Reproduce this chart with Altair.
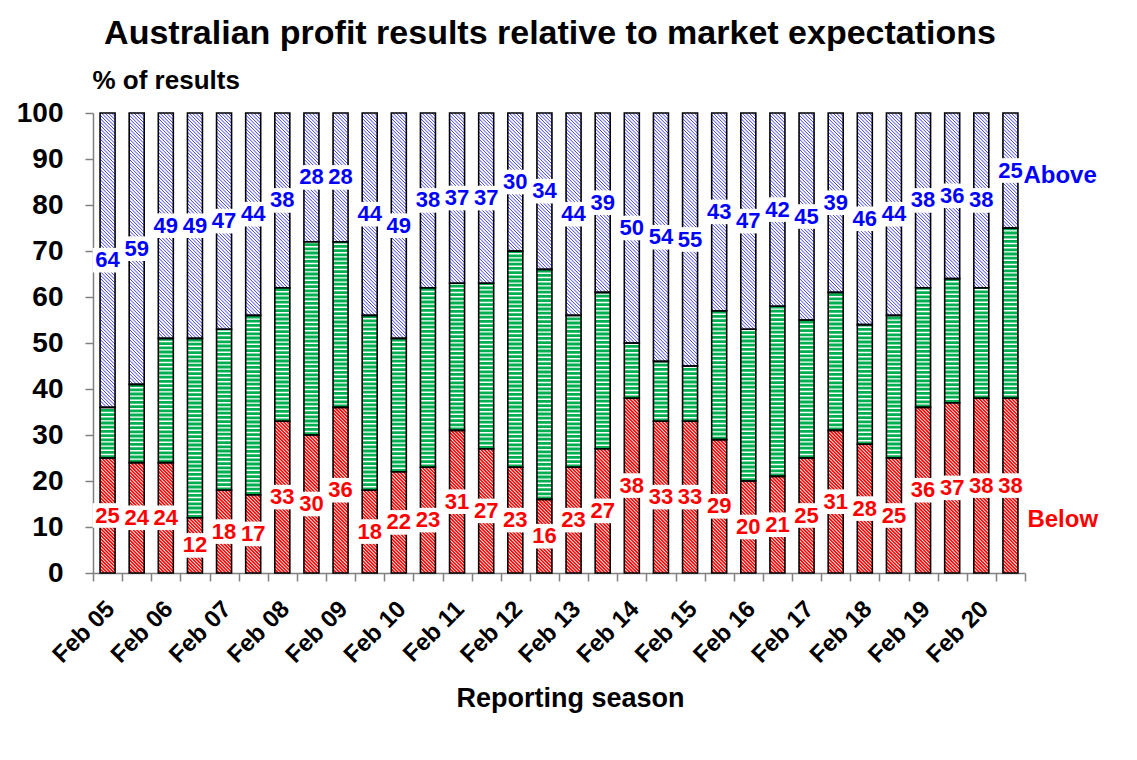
import altair as alt
import pandas as pd

# Reporting seasons (Feb and Aug of each year)
seasons = [
    "Feb 05", "Aug 05", "Feb 06", "Aug 06", "Feb 07", "Aug 07", "Feb 08", "Aug 08",
    "Feb 09", "Aug 09", "Feb 10", "Aug 10", "Feb 11", "Aug 11", "Feb 12", "Aug 12",
    "Feb 13", "Aug 13", "Feb 14", "Aug 14", "Feb 15", "Aug 15", "Feb 16", "Aug 16",
    "Feb 17", "Aug 17", "Feb 18", "Aug 18", "Feb 19", "Aug 19", "Feb 20", "Aug 20",
]
# % of results below / in line with / above expectations
below = [25, 24, 24, 12, 18, 17, 33, 30, 36, 18, 22, 23, 31, 27, 23, 16,
         23, 27, 38, 33, 33, 29, 20, 21, 25, 31, 28, 25, 36, 37, 38, 38]
inline = [11, 17, 27, 39, 35, 39, 29, 42, 36, 38, 29, 39, 32, 36, 47, 50,
          33, 34, 12, 13, 12, 28, 33, 37, 30, 30, 26, 31, 26, 27, 24, 37]
above = [64, 59, 49, 49, 47, 44, 38, 28, 28, 44, 49, 38, 37, 37, 30, 34,
         44, 39, 50, 54, 55, 43, 47, 42, 45, 39, 46, 44, 38, 36, 38, 25]

FONT = "Liberation Sans"
RED, GREEN, BLUE = "#FF0000", "#00B050", "#0000FF"
GREY = "#808080"
BAR_W = 15
PLOT_W, PLOT_H = 932, 460

df = pd.DataFrame({"season": seasons, "below": below, "inline": inline, "above": above})


def hatch_path(y0, y1, period):
    """SVG path of '\\' hatch lines filling a BAR_W wide strip from y0 to y1 (pixels)."""
    hw = BAR_W / 2
    segs = []
    k = y0 - hw
    while k < y1 + hw:
        lo, hi = max(-hw, y0 - k), min(hw, y1 - k)
        if hi > lo:
            segs.append(f"M{lo:.2f},{lo + k:.2f}L{hi:.2f},{hi + k:.2f}")
        k += period
    return "".join(segs)


base = alt.Chart(df).transform_calculate(
    mid="datum.below + datum.inline",
    top="100",
    zero="0",
    below_c="datum.below / 2",
    above_c="(datum.below + datum.inline + 100) / 2",
)

x_enc = alt.X(
    "season:N",
    sort=seasons,
    scale=alt.Scale(paddingInner=0, paddingOuter=0),
    axis=alt.Axis(
        title="Reporting season",
        titleFont=FONT, titleFontSize=27, titleFontWeight="bold", titleColor="black",
        titleX=477, titleY=133, titleAlign="center", titleBaseline="alphabetic",
        labelExpr="indexof(datum.label, 'Feb') == 0 ? datum.label : ''",
        labelAngle=-45, labelAlign="right", labelBaseline="middle",
        labelFont=FONT, labelFontSize=24, labelFontWeight="bold", labelColor="black",
        labelPadding=24, labelOffset=3, labelOverlap=False,
        tickBand="extent", tickSize=8, tickColor=GREY, tickWidth=1.5,
        domainColor=GREY, domainWidth=1.5,
    ),
)

y_axis = alt.Axis(
    title="% of results",
    titleFont=FONT, titleFontSize=26, titleFontWeight="bold", titleColor="black",
    titleAngle=0, titleAlign="left", titleBaseline="alphabetic", titleX=-1, titleY=-25,
    values=list(range(0, 101, 10)),
    labelFont=FONT, labelFontSize=28, labelFontWeight="bold", labelColor="black",
    labelPadding=22, tickSize=8, tickColor=GREY, tickWidth=1.5,
    domainColor=GREY, domainWidth=1.5, grid=False,
)
y_scale = alt.Scale(domain=[0, 100], nice=False, zero=False)


def y_enc(field):
    return alt.Y(field, type="quantitative", scale=y_scale, axis=y_axis)


hatch = dict(size=4, filled=False, opacity=1)

# blue hatch hangs down from the top; everything below the "above" segment is then whited out
blue = base.mark_point(shape=hatch_path(0, 300, 3.4), stroke="#3030FF", strokeWidth=0.95, **hatch).encode(
    x=x_enc, y=y_enc("top")
)
cover = base.mark_bar(size=BAR_W, color="white", strokeWidth=0).encode(
    x=x_enc, y=y_enc("mid"), y2="zero:Q"
)
# red hatch hangs down from the top of the "below" segment and is clipped at zero
red = base.mark_point(shape=hatch_path(0, 185, 3.4), stroke=RED, strokeWidth=1.6, clip=True, **hatch).encode(
    x=x_enc, y=y_enc("below")
)
green = base.mark_rule(strokeWidth=BAR_W, strokeDash=[2.8, 1.4], color=GREEN).encode(
    x=x_enc, y=y_enc("below"), y2="mid:Q"
)

outline = dict(size=BAR_W, fillOpacity=0, stroke="black", strokeWidth=1.6)
out_red = base.mark_bar(**outline).encode(x=x_enc, y=y_enc("below"))
out_green = base.mark_bar(**outline).encode(x=x_enc, y=y_enc("below"), y2="mid:Q")
out_blue = base.mark_bar(**outline).encode(x=x_enc, y=y_enc("mid"), y2="top:Q")

box = dict(shape="M-1,-0.82L1,-0.82L1,0.82L-1,0.82Z", size=900, filled=True,
           color="white", opacity=1, strokeWidth=0)
box_red = base.mark_point(**box).encode(x=x_enc, y=y_enc("below_c"))
box_blue = base.mark_point(**box).encode(x=x_enc, y=y_enc("above_c"))

label = dict(font=FONT, fontSize=22, fontWeight="bold", align="center", baseline="middle")
txt_red = base.mark_text(color=RED, **label).encode(x=x_enc, y=y_enc("below_c"), text="below:Q")
txt_blue = base.mark_text(color=BLUE, **label).encode(x=x_enc, y=y_enc("above_c"), text="above:Q")

last = base.transform_filter(alt.datum.season == seasons[-1])
name = dict(font=FONT, fontSize=24, fontWeight="bold", align="left", baseline="middle")
tag_above = last.mark_text(text="Above", color=BLUE, dx=13, dy=5, **name).encode(
    x=x_enc, y=y_enc("above_c")
)
tag_below = last.mark_text(text="Below", color=RED, dx=17, dy=34, **name).encode(
    x=x_enc, y=y_enc("below_c")
)

chart = alt.layer(
    blue, cover, red, green, out_red, out_green, out_blue,
    box_red, box_blue, txt_red, txt_blue, tag_above, tag_below,
).properties(
    width=PLOT_W,
    height=PLOT_H,
    padding={"left": 85, "top": 105, "right": 100, "bottom": 179},
    autosize=alt.AutoSizeParams(type="none"),
    title=alt.TitleParams(
        "Australian profit results relative to market expectations",
        font=FONT, fontSize=34, fontWeight="bold", color="black",
        anchor="middle", frame="group", baseline="alphabetic", offset=-11, dx=-9,
    ),
).configure_view(stroke=None)

chart.save("out.html", embed_options={"renderer": "svg", "actions": False})
